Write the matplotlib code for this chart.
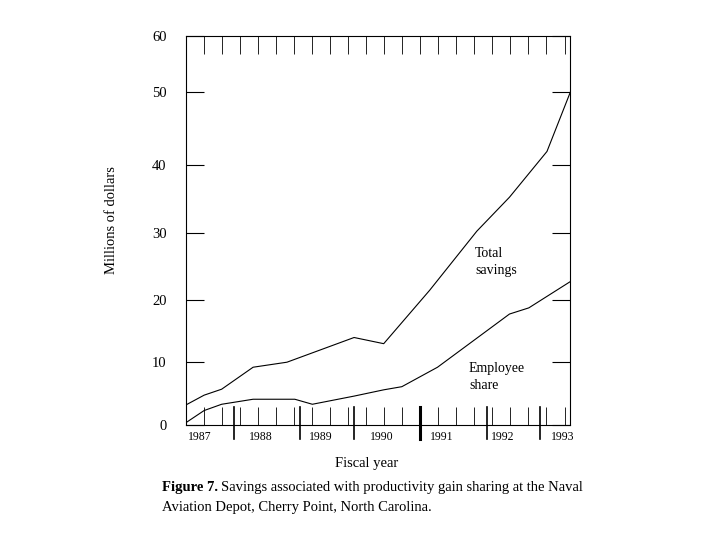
import matplotlib.pyplot as plt
import numpy as np

plt.rcParams['font.family'] = ['Liberation Serif', 'DejaVu Serif']

# data
total_years = [1986.79, 1987.07, 1987.36, 1987.88, 1988.44, 1989.55, 1990.04,
               1990.8, 1991.58, 1992.12, 1992.74, 1993.13]
total_savings = [3.3, 4.75, 5.7, 9.2, 10.0, 14.0, 13.0, 21.5, 30.2, 35.2, 41.8, 50.0]
emp_years = [1986.79, 1987.07, 1987.36, 1987.88, 1988.57, 1988.86, 1989.55,
             1990.04, 1990.34, 1990.93, 1992.12, 1992.44, 1993.13]
employee_share = [0.5, 2.3, 3.3, 4.1, 4.1, 3.3, 4.6, 5.6, 6.1, 9.2, 17.8, 18.8, 22.8]
years = [1987, 1988, 1989, 1990, 1991, 1992, 1993]
y_ticks = [0, 10, 20, 30, 40, 50, 60]
# the original axis is not evenly spaced; relative position of each tick
y_pos = [0, 61, 121, 187, 253, 324, 378]
period_marks = [1987.56, 1988.65, 1989.55, 1990.64, 1991.74, 1992.62]


def fwd(v):
    return np.interp(v, y_ticks, y_pos)


def inv(p):
    return np.interp(p, y_pos, y_ticks)


fig = plt.figure(figsize=(7.2, 5.4), dpi=100)
ax = fig.add_axes([0.2583, 0.213, 0.5333, 0.7204])
ax.set_yscale('function', functions=(fwd, inv))

ax.plot(total_years, total_savings, color='black', lw=0.8)
ax.plot(emp_years, employee_share, color='black', lw=0.8)

ax.set_xlim(1986.77, 1993.12)
ax.set_ylim(0, 61.3)
ax.set_yticks(y_ticks)
ax.set_xticks(years)
ax.set_xticklabels([str(y) for y in years], fontsize=8.5)
ax.set_yticklabels([str(v) for v in y_ticks], fontsize=10.5)
ax.tick_params(axis='y', direction='in', length=13, left=True, right=True, pad=14)
ax.tick_params(axis='x', which='major', length=0, pad=4)
minor = np.arange(1986.77 + 0.3, 1993.1, 0.298)
ax.set_xticks(minor, minor=True)
ax.tick_params(axis='x', which='minor', direction='in', length=13, top=True, bottom=True)
for m in period_marks:
    ax.axvline(m, ymin=-0.035, ymax=0.045, color='black', lw=1.2 if m != 1990.64 else 2.2,
               clip_on=False)
for s in ax.spines.values():
    s.set_linewidth(0.8)

ax.text(1991.55, 25.6, 'Total\nsavings', fontsize=10, va='center', linespacing=1.4)
ax.text(1991.45, 7.6, 'Employee\nshare', fontsize=10, va='center', linespacing=1.4)

ax.set_ylabel('Millions of dollars', fontsize=10.5)
ax.yaxis.set_label_coords(-0.177, 0.527)
fig.text(367 / 720, 1 - 464 / 540, 'Fiscal year', ha='center', va='center', fontsize=10.5)

bold = fig.text(162 / 720, 1 - 488 / 540, 'Figure 7.', ha='left', va='center',
                fontsize=10.5, fontweight='bold')
fig.canvas.draw()
bb = bold.get_window_extent()
fig.text(bb.x1 / 720 + 0.004, 1 - 488 / 540,
         'Savings associated with productivity gain sharing at the Naval',
         ha='left', va='center', fontsize=10.5)
fig.text(162 / 720, 1 - 508 / 540, 'Aviation Depot, Cherry Point, North Carolina.',
         ha='left', va='center', fontsize=10.5)

fig.savefig('out.png', dpi=100)
